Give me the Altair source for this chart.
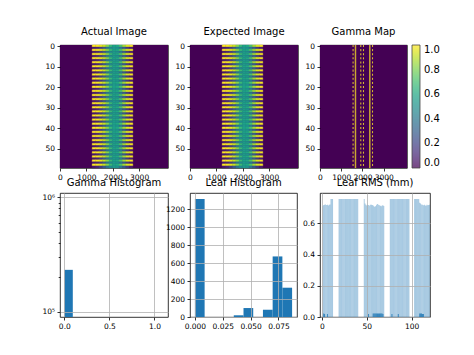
import altair as alt
import pandas as pd

FONT = "DejaVu Sans"
BLUE = "#1f77b4"
GRID = "#b0b0b0"

# ---------------- image panels (60 rows x 4096 columns) ----------------
img_rows = list(range(60))
row_type = list("bdbdbdbdbd" "bdbdbdbdbd" "bdbdbdbdbd" "bdbdbdbdbd" "bdbdbdbdbd" "bdbdbdbdbd")
field_edges = [1220, 1350, 1480, 1610, 1740, 1860, 1990, 2120, 2240, 2370, 2500, 2630, 2760]
actual_bright = [1.0, 0.99, 0.97, 0.92, 0.82, 0.68, 0.57, 0.6, 0.72, 0.86, 0.95, 0.99]
actual_dark = [0.06, 0.1, 0.17, 0.27, 0.38, 0.48, 0.54, 0.5, 0.4, 0.28, 0.16, 0.08]
expected_bright = [1.0, 0.99, 0.97, 0.92, 0.82, 0.68, 0.57, 0.6, 0.72, 0.86, 0.95, 0.99]
expected_dark = [0.06, 0.1, 0.17, 0.27, 0.38, 0.48, 0.54, 0.5, 0.4, 0.28, 0.16, 0.08]
img_extent = [-0.5, 4095.5]
row_extent = [-0.5, 59.5]
img_x_ticks = [0, 1000, 2000, 3000]
img_y_ticks = [0, 10, 20, 30, 40, 50]

gamma_solid_x = [1670, 2344]
gamma_dotted_x = [1557, 1920, 2047, 2472]
cbar_ticks = [0.0, 0.2, 0.4, 0.6, 0.8, 1.0]

# ---------------- gamma histogram ----------------
gamma_bin_lo = [0.0]
gamma_bin_hi = [0.094]
gamma_count = [233000]
gamma_x_ticks = [0.0, 0.5, 1.0]
gamma_y_ticks = [100000, 200000, 300000, 400000, 500000, 600000, 700000, 800000, 900000, 1000000]

# ---------------- leaf histogram ----------------
leaf_bin_edges = [0.0, 0.00872, 0.01744, 0.02616, 0.03488, 0.0436, 0.05232, 0.06104, 0.06976, 0.07848, 0.0872]
leaf_bin_count = [1318, 0, 0, 0, 19, 100, 0, 81, 676, 327]
leaf_x_ticks = [0.0, 0.025, 0.05, 0.075]
leaf_y_ticks = [0, 200, 400, 600, 800, 1000, 1200]

# ---------------- leaf RMS ----------------
leaf_ids = list(range(1, 121))
leaf_rms = [
    0.712, 0.718, 0.72, 0.722, 0.718, 0.72, 0.715, 0.72, 0.722, 0.757, 0.757, 0.757,
    0, 0, 0, 0, 0, 0,
    0.757, 0.757, 0.757, 0.757, 0.757, 0.757, 0.757, 0.757, 0.757, 0.757, 0.757,
    0.757, 0.757, 0.757, 0.757, 0.757, 0.757, 0.757, 0.757, 0.757, 0.757, 0.757,
    0, 0, 0, 0, 0, 0,
    0.757, 0.728, 0.72, 0.715, 0.72, 0.718, 0.715, 0.72, 0.72, 0.718, 0.715, 0.71,
    0.705, 0.712, 0.72, 0.725, 0.72, 0.716, 0.714, 0.71, 0.715, 0.716, 0.712,
    0, 0, 0, 0, 0, 0,
    0.757, 0.757, 0.757, 0.757, 0.757, 0.757, 0.757, 0.757, 0.757, 0.757, 0.757,
    0.757, 0.757, 0.757, 0.757, 0.757, 0.757, 0.757, 0.757, 0.757, 0.757, 0.757,
    0, 0, 0, 0, 0,
    0.757, 0.757, 0.757, 0.757, 0.757, 0.757, 0.732, 0.728, 0.722, 0.72, 0.716, 0.72,
    0.715, 0.714, 0.72, 0.716, 0.718, 0.72,
]
small_leaf_ids = [2, 3, 6, 52, 57, 58, 59, 60, 61, 62, 63, 64, 65, 66, 67, 68, 78, 85, 109, 110, 111, 112, 113]
small_leaf_rms = [0.022, 0.02, 0.02, 0.02, 0.022, 0.022, 0.022, 0.022, 0.022, 0.022, 0.022, 0.022,
                  0.022, 0.022, 0.022, 0.02, 0.02, 0.02, 0.022, 0.022, 0.022, 0.02, 0.02]
rms_x_ticks = [0, 50, 100]
rms_y_ticks = [0.0, 0.2, 0.4, 0.6]

cscale = alt.Scale(scheme="viridis", domain=[0, 1])
TOP_W, TOP_H = 108, 123
BOT_H = 124


def ax(values, fmt=None, grid=False, **kw):
    if fmt is not None:
        kw["format"] = fmt
    return alt.Axis(values=values, title=None, grid=grid, zindex=1,
                    labelOverlap=False, labelFlush=False, labelBound=False, **kw)


IMG_XS = alt.Scale(domain=img_extent, nice=False, zero=False)
IMG_YS = alt.Scale(domain=row_extent, reverse=True, nice=False, zero=False)


def img_enc(chart, color_legend=None):
    return chart.encode(
        x=alt.X("x0:Q", scale=IMG_XS, axis=ax(img_x_ticks, "d")), x2="x1:Q",
        y=alt.Y("y0:Q", scale=IMG_YS, axis=ax(img_y_ticks, "d")), y2="y1:Q",
        color=alt.Color("v:Q", scale=cscale, legend=color_legend))


def background(legend=None):
    bg_df = pd.DataFrame({"x0": [img_extent[0]], "x1": [img_extent[1]],
                          "y0": [row_extent[0]], "y1": [row_extent[1]], "v": [0.0]})
    return img_enc(alt.Chart(bg_df).mark_rect(), legend)


def img_panel(title, bright, dark):
    recs = []
    for r, kind in zip(img_rows, row_type):
        prof = bright if kind == "b" else dark
        for i, v in enumerate(prof):
            recs.append({"x0": field_edges[i], "x1": field_edges[i + 1], "row": r, "v": v})
    df = pd.DataFrame(recs)
    cells = img_enc(alt.Chart(df).transform_calculate(
        y0="datum.row - 0.5", y1="datum.row + 0.5"
    ).mark_rect(strokeWidth=0.4)).encode(
        stroke=alt.Stroke("v:Q", scale=cscale, legend=None))
    return alt.layer(background(), cells).properties(width=TOP_W, height=TOP_H, title=title)


actual = img_panel("Actual Image", actual_bright, actual_dark)
expected = img_panel("Expected Image", expected_bright, expected_dark)

legend = alt.Legend(title=None, orient="right", offset=5, padding=0, gradientLength=TOP_H,
                    gradientThickness=8, values=cbar_ticks, format=".1f", labelFontSize=10,
                    labelFont=FONT, labelColor="black", gradientStrokeColor="black",
                    gradientStrokeWidth=0.8, direction="vertical", labelOverlap=False, labelOffset=4)

solid_df = pd.DataFrame({"xc": gamma_solid_x, "v": [1.0] * len(gamma_solid_x)})
dot_recs = []
for xc in gamma_dotted_x:
    for r, kind in zip(img_rows, row_type):
        if kind == "b":
            dot_recs.append({"xc": xc, "row": r, "v": 1.0})
dot_df = pd.DataFrame(dot_recs)

solid = img_enc(alt.Chart(solid_df).transform_calculate(
    x0="datum.xc - 35", x1="datum.xc + 35", y0="-0.5", y1="59.5"
).mark_rect(opacity=0.72), legend)
dotted = img_enc(alt.Chart(dot_df).transform_calculate(
    x0="datum.xc - 25", x1="datum.xc + 25", y0="datum.row - 0.5", y1="datum.row + 0.5"
).mark_rect(opacity=0.8), legend)
gamma_map = alt.layer(background(legend), solid, dotted).properties(
    width=87, height=TOP_H, title="Gamma Map")

# ---- gamma histogram
gh_df = pd.DataFrame({"lo": gamma_bin_lo, "hi": gamma_bin_hi, "count": gamma_count})
minor_test = "datum.value == 100000 || datum.value == 1000000"
gh = alt.Chart(gh_df).mark_bar(color=BLUE).encode(
    x=alt.X("lo:Q", scale=alt.Scale(domain=[-0.048, 1.15], nice=False, zero=False),
            axis=ax(gamma_x_ticks, ".1f", grid=True)),
    x2="hi:Q",
    y=alt.Y("count:Q", scale=alt.Scale(type="log", domain=[90400, 1090000], nice=False),
            axis=ax(gamma_y_ticks, grid=True,
                    labelExpr="datum.value == 100000 ? '10⁵' : (datum.value == 1000000 ? '10⁶' : '')",
                    tickSize={"condition": {"test": minor_test, "value": 3}, "value": 1.8},
                    gridOpacity={"condition": {"test": minor_test, "value": 1}, "value": 0})),
    y2=alt.value(BOT_H),
).transform_filter("datum.count >= 90400").properties(width=TOP_W, height=BOT_H, title="Gamma Histogram")

# ---- leaf histogram
lh_df = pd.DataFrame({"lo": leaf_bin_edges[:-1], "hi": leaf_bin_edges[1:], "count": leaf_bin_count})
lh = alt.Chart(lh_df).mark_rect(color=BLUE).encode(
    x=alt.X("lo:Q", scale=alt.Scale(domain=[-0.0044, 0.0916], nice=False, zero=False),
            axis=ax(leaf_x_ticks, ".3f", grid=True)),
    x2="hi:Q",
    y=alt.Y("count:Q", scale=alt.Scale(domain=[0, 1384], nice=False),
            axis=ax(leaf_y_ticks, "d", grid=True)),
    y2=alt.datum(0),
).properties(width=107, height=BOT_H, title="Leaf Histogram")

# ---- leaf RMS
rms_xs = alt.Scale(domain=[-2.2, 120.4], nice=False, zero=False)
rms_ys = alt.Scale(domain=[0, 0.795], nice=False)
rms_xax = ax(rms_x_ticks, "d", grid=True)
rms_yax = ax(rms_y_ticks, ".1f", grid=True)
rms_df = pd.DataFrame({"leaf": leaf_ids, "rms": leaf_rms})
small_df = pd.DataFrame({"leaf": small_leaf_ids, "rms": small_leaf_rms})
rms_bars = alt.Chart(rms_df).transform_calculate(
    l0="datum.leaf - 0.33", l1="datum.leaf + 0.33"
).mark_rect(color=BLUE, opacity=0.6).encode(
    x=alt.X("l0:Q", scale=rms_xs, axis=rms_xax), x2="l1:Q",
    y=alt.Y("rms:Q", scale=rms_ys, axis=rms_yax), y2=alt.datum(0),
)
small_bars = alt.Chart(small_df).transform_calculate(
    l0="datum.leaf - 0.45", l1="datum.leaf + 0.45"
).mark_rect(color=BLUE).encode(
    x=alt.X("l0:Q", scale=rms_xs, axis=rms_xax), x2="l1:Q",
    y=alt.Y("rms:Q", scale=rms_ys, axis=rms_yax), y2=alt.datum(0))
rms = alt.layer(rms_bars, small_bars).properties(width=110, height=BOT_H, title="Leaf RMS (mm)")

chart = alt.concat(
    actual, expected, gamma_map, gh, lh, rms,
    columns=3, spacing={"row": 25, "column": 22}, bounds="flush", align="each",
).resolve_scale(color="independent").properties(
    padding={"left": 33, "top": 18, "right": 5, "bottom": 5}
).configure_view(stroke="black", strokeWidth=0.8).configure_axis(
    labelFont=FONT, labelFontSize=7.5, labelColor="black", tickColor="black",
    tickSize=3, tickWidth=0.8, domain=False, grid=False, labelPadding=2.5,
    gridColor=GRID, gridWidth=0.8
).configure_title(font=FONT, fontSize=10, fontWeight="normal", color="black", offset=5)

chart.save("out.html", embed_options={"renderer": "svg", "actions": False})
